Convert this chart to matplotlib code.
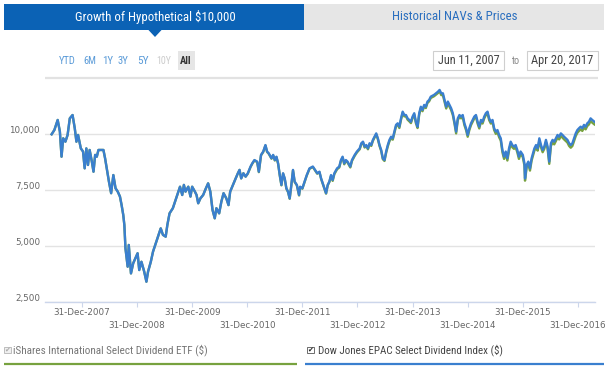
import matplotlib
matplotlib.use("Agg")
import matplotlib.pyplot as plt
from matplotlib import font_manager
from matplotlib.transforms import ScaledTranslation
from matplotlib.patches import Rectangle, Polygon

# ---------------- data (decimal years, growth of $10,000) ----------------
dates_a = [2007.45, 2007.50, 2007.56, 2007.60, 2007.63, 2007.66, 2007.70, 2007.74, 2007.78, 2007.83,
           2007.87, 2007.90, 2007.93, 2007.98, 2008.02, 2008.05, 2008.08, 2008.11, 2008.14, 2008.18,
           2008.21, 2008.24, 2008.27, 2008.30, 2008.34, 2008.39, 2008.42, 2008.45, 2008.49, 2008.53,
           2008.57, 2008.61, 2008.65, 2008.69, 2008.72, 2008.75, 2008.77, 2008.79, 2008.83, 2008.85,
           2008.89, 2008.93, 2008.97, 2009.01, 2009.04, 2009.08, 2009.13, 2009.17, 2009.20, 2009.25,
           2009.29, 2009.33, 2009.38, 2009.43, 2009.47, 2009.52, 2009.55, 2009.59, 2009.65, 2009.70,
           2009.75]
index_a = [10000, 10190, 10640, 10120, 9000, 9820, 9670, 9970, 10710, 10860,
           10270, 9670, 9970, 9370, 9230, 8480, 9370, 8630, 9300, 8780,
           8330, 9080, 9000, 9300, 9300, 9300, 8930, 8480, 7890, 7370,
           8180, 7590, 7440, 7220, 6840, 6400, 5950, 4910, 4090, 5060,
           3790, 4240, 4460, 4690, 3940, 4310, 3870, 3420, 3870, 4310,
           4760, 5060, 5430, 5800, 5510, 5430, 5950, 6470, 6700, 7070,
           7440]
etf_a = [10000, 10190, 10640, 10120, 9000, 9820, 9670, 9970, 10710, 10860,
         10270, 9670, 9970, 9370, 9230, 8480, 9370, 8630, 9300, 8780,
         8330, 9080, 9000, 9300, 9300, 9300, 8930, 8480, 7890, 7370,
         8180, 7590, 7440, 7220, 6840, 6400, 5950, 4910, 4090, 5060,
         3790, 4240, 4460, 4690, 3940, 4310, 3870, 3420, 3870, 4310,
         4760, 5060, 5430, 5800, 5510, 5430, 5950, 6470, 6700, 7070,
         7440]

dates_b = [2009.78, 2009.82, 2009.85, 2009.88, 2009.93, 2009.97,
           2010.00, 2010.05, 2010.08, 2010.11, 2010.15, 2010.20, 2010.25, 2010.29, 2010.33, 2010.37,
           2010.41, 2010.44, 2010.49, 2010.53, 2010.57, 2010.62, 2010.66, 2010.69, 2010.74, 2010.79,
           2010.83, 2010.86, 2010.89, 2010.93, 2010.97,
           2011.01, 2011.06, 2011.09, 2011.13, 2011.18, 2011.21, 2011.25, 2011.29, 2011.32, 2011.33,
           2011.36, 2011.39, 2011.44, 2011.47, 2011.50, 2011.53, 2011.56, 2011.59, 2011.62, 2011.65,
           2011.68, 2011.71, 2011.74, 2011.77, 2011.80, 2011.83, 2011.86, 2011.90, 2011.94, 2011.96,
           2012.00, 2012.04, 2012.08, 2012.13, 2012.19]
index_b = [7660, 7290, 7740, 7440, 7660, 7220,
           7660, 7440, 7290, 6920, 7140, 7290, 7590, 7810, 7440, 6620,
           6250, 6700, 6470, 6990, 7370, 7140, 6840, 7440, 7740, 8030,
           8260, 8410, 8030, 8260, 8110,
           8260, 8560, 8700, 8850, 8780, 8330, 9080, 9230, 9450, 9520,
           9230, 9150, 8930, 9080, 8850, 9000, 8700, 8180, 7740, 8260,
           8030, 7590, 7440, 7140, 7740, 8410, 7890, 7740, 7290, 7660,
           7590, 7890, 8180, 8480, 8560]
etf_b = [7660, 7290, 7740, 7440, 7660, 7220,
         7660, 7440, 7290, 6920, 7140, 7290, 7590, 7810, 7440, 6620,
         6250, 6700, 6470, 6990, 7370, 7140, 6840, 7440, 7740, 8030,
         8260, 8410, 8030, 8260, 8110,
         8240, 8540, 8680, 8830, 8760, 8310, 9060, 9210, 9430, 9500,
         9210, 9130, 8910, 9060, 8830, 8980, 8680, 8160, 7720, 8240,
         8010, 7570, 7420, 7120, 7720, 8390, 7870, 7720, 7270, 7640,
         7570, 7870, 8160, 8460, 8540]

dates_c = [2012.27, 2012.31, 2012.34, 2012.37, 2012.40, 2012.43, 2012.46, 2012.49, 2012.52, 2012.55,
           2012.58, 2012.63, 2012.67, 2012.70, 2012.73, 2012.76, 2012.79, 2012.82, 2012.87, 2012.90,
           2012.95, 2012.99,
           2013.04, 2013.07, 2013.10, 2013.13, 2013.16, 2013.19, 2013.22, 2013.25, 2013.28, 2013.31,
           2013.34, 2013.37, 2013.40, 2013.43, 2013.46, 2013.49, 2013.52, 2013.55, 2013.58, 2013.61,
           2013.64, 2013.67, 2013.70, 2013.73, 2013.76, 2013.79, 2013.82, 2013.85, 2013.88, 2013.91,
           2013.94, 2013.97,
           2014.00, 2014.03, 2014.06, 2014.09, 2014.12, 2014.15, 2014.18, 2014.21, 2014.24, 2014.27,
           2014.30, 2014.33, 2014.39, 2014.46, 2014.49, 2014.52, 2014.55, 2014.58, 2014.61, 2014.64,
           2014.67, 2014.70, 2014.73, 2014.76]
index_c = [8260, 8330, 8030, 7810, 7590, 7370, 7740, 7890, 8180, 7960,
           8260, 8480, 8560, 8850, 9000, 8700, 8850, 8780, 8560, 8850,
           9080, 9230,
           9370, 9600, 9670, 9450, 9520, 9370, 9600, 9520, 9750, 9890,
           10040, 9820, 9520, 9300, 8930, 8850, 9230, 9520, 9750, 9890,
           9820, 10120, 10420, 10490, 10340, 10710, 11010, 10860, 10860, 10710,
           10640, 10560,
           10790, 10940, 10560, 10340, 10940, 11230, 11090, 11310, 11230, 11460,
           11530, 11680, 11760, 11900, 11980, 11830, 11830, 11530, 11230, 11460,
           11310, 11160, 10940, 10560]
etf_c = [8240, 8310, 8010, 7790, 7570, 7350, 7720, 7870, 8140, 7920,
         8220, 8440, 8520, 8810, 8960, 8660, 8810, 8740, 8520, 8810,
         9040, 9190,
         9330, 9560, 9630, 9410, 9480, 9330, 9560, 9480, 9710, 9850,
         10000, 9780, 9480, 9260, 8890, 8810, 9170, 9460, 9690, 9830,
         9760, 10060, 10360, 10430, 10280, 10650, 10950, 10800, 10800, 10650,
         10580, 10500,
         10730, 10880, 10500, 10280, 10880, 11170, 11030, 11250, 11170, 11400,
         11470, 11620, 11700, 11840, 11920, 11750, 11750, 11450, 11150, 11380,
         11230, 11080, 10860, 10480]

dates_d = [2014.79, 2014.82, 2014.85, 2014.88, 2014.91, 2014.94, 2014.97,
           2015.00, 2015.03, 2015.06, 2015.09, 2015.12, 2015.15, 2015.18, 2015.21, 2015.24, 2015.27,
           2015.30, 2015.33, 2015.36, 2015.39, 2015.42, 2015.45, 2015.48, 2015.51, 2015.54, 2015.57,
           2015.60, 2015.63, 2015.66, 2015.69, 2015.72, 2015.75, 2015.78, 2015.81, 2015.84, 2015.87,
           2015.90, 2015.93, 2015.96,
           2016.00, 2016.03, 2016.04, 2016.07, 2016.10, 2016.13, 2016.16, 2016.21, 2016.24, 2016.27,
           2016.30, 2016.33, 2016.36, 2016.39, 2016.42, 2016.45, 2016.48, 2016.51, 2016.54, 2016.57,
           2016.60, 2016.63, 2016.66, 2016.69, 2016.72, 2016.75, 2016.78, 2016.81, 2016.84, 2016.87,
           2016.90, 2016.93, 2016.96, 2016.99,
           2017.02, 2017.05, 2017.08, 2017.11, 2017.14, 2017.17, 2017.20, 2017.23, 2017.26, 2017.30]
index_d = [10120, 10710, 10860, 10790, 10860, 10490, 10270,
           9970, 10270, 10490, 10640, 10790, 10860, 10560, 10340, 10640, 10560,
           10790, 10940, 11010, 10710, 10560, 10640, 10270, 10120, 10190, 9970,
           9820, 9300, 9000, 9230, 8930, 9370, 9670, 9520, 9450, 9520,
           9300, 9000, 9230,
           9080, 8700, 8030, 8630, 8780, 8480, 8930, 9370, 9520, 9370,
           9820, 9520, 9300, 9450, 9750, 9450, 8780, 9600, 9750, 9670,
           9820, 9970, 9890, 10040, 9970, 9890, 9820, 9750, 9600, 9520,
           9600, 9820, 10040, 10190,
           10270, 10340, 10270, 10420, 10340, 10490, 10560, 10710, 10640, 10560]
etf_d = [10040, 10630, 10780, 10710, 10780, 10410, 10190,
         9890, 10190, 10410, 10560, 10710, 10780, 10480, 10260, 10560, 10480,
         10710, 10860, 10930, 10630, 10480, 10560, 10190, 10020, 10090, 9870,
         9720, 9200, 8900, 9130, 8830, 9270, 9570, 9420, 9350, 9420,
         9200, 8900, 9130,
         8980, 8600, 7930, 8530, 8680, 8380, 8830, 9270, 9420, 9270,
         9720, 9420, 9200, 9350, 9650, 9350, 8680, 9480, 9630, 9550,
         9700, 9850, 9770, 9920, 9850, 9770, 9700, 9630, 9480, 9400,
         9480, 9700, 9920, 10070,
         10150, 10220, 10150, 10300, 10220, 10370, 10440, 10590, 10520, 10440]

dates = dates_a + dates_b + dates_c + dates_d
index_values = index_a + index_b + index_c + index_d
etf_values = etf_a + etf_b + etf_c + etf_d

y_ticks = [2500, 5000, 7500, 10000]
y_labels = ["2,500", "5,000", "7,500", "10,000"]
tick_years = [2007, 2008, 2009, 2010, 2011, 2012, 2013, 2014, 2015, 2016]
x_labels = ["31-Dec-%d" % y for y in tick_years]

series_names = ["iShares International Select Dividend ETF ($)",
                "Dow Jones EPAC Select Dividend Index ($)"]
range_buttons = ["YTD", "6M", "1Y", "3Y", "5Y", "10Y", "All"]
tab_labels = ["Growth of Hypothetical $10,000", "Historical NAVs & Prices"]
date_from, date_to = "Jun 11, 2007", "Apr 20, 2017"

# ---------------- styling ----------------
BLUE_LINE = "#3a7fcf"
GREEN_LINE = "#77a23f"
TAB_BLUE = "#0b62b5"
W, H = 610, 368

names = {f.name for f in font_manager.fontManager.ttflist}
ui_font = next((n for n in ["Liberation Sans Narrow", "Roboto Condensed", "Open Sans Condensed",
                            "Liberation Sans", "Roboto"] if n in names), "DejaVu Sans")

fig = plt.figure(figsize=(W / 100, H / 100), dpi=100)
fig.patch.set_facecolor("white")

# main chart
ax = fig.add_axes([45 / W, 1 - 302.3 / H, 550 / W, (302.3 - 85) / H])
ax.plot(dates, etf_values, color=GREEN_LINE, lw=1.7, solid_joinstyle="round", zorder=3)
ax.plot(dates, index_values, color=BLUE_LINE, lw=1.7, solid_joinstyle="round", zorder=4)
ax.set_xlim(2007.33, 2017.31)
ax.set_ylim(2500, 12200)
ax.set_yticks(y_ticks, labels=y_labels)
ax.set_xticks([y + 1.0 for y in tick_years], labels=x_labels)
ax.grid(axis="y", color="#e3e3e3", lw=1.0)
ax.set_axisbelow(True)
for s in ["top", "right", "left"]:
    ax.spines[s].set_visible(False)
ax.spines["bottom"].set_color("#ccd6eb")
ax.spines["bottom"].set_linewidth(1.0)
ax.tick_params(axis="y", length=0, pad=3.6, labelsize=6.3, labelcolor="#666666")
ax.tick_params(axis="x", length=3.6, width=0.8, color="#ccd6eb", pad=0.2,
               labelsize=6.3, labelcolor="#666666")
for lab in ax.get_yticklabels():
    lab.set_transform(lab.get_transform() + ScaledTranslation(0, 4.7 / 100, fig.dpi_scale_trans))
for i, lab in enumerate(ax.get_xticklabels()):
    if i % 2 == 1:
        lab.set_transform(lab.get_transform() + ScaledTranslation(0, -13.7 / 100, fig.dpi_scale_trans))

# overlay for the surrounding widget
ov = fig.add_axes([0, 0, 1, 1], zorder=-1)
ov.set_xlim(0, W)
ov.set_ylim(H, 0)
ov.axis("off")
renderer = fig.canvas.get_renderer()


def fit_text(x, y, s, width, ha="center", **kw):
    t = ov.text(x, y, s, ha=ha, va="center", fontsize=10, **kw)
    w = t.get_window_extent(renderer=renderer).width
    t.set_fontsize(10 * width / w)
    return t


# tabs
ov.add_patch(Rectangle((4, 4), 300, 26, fc=TAB_BLUE, ec="none"))
ov.add_patch(Polygon([(148, 29.5), (162, 29.5), (155, 37)], closed=True, fc=TAB_BLUE, ec="none"))
ov.add_patch(Rectangle((304, 4), 300, 26, fc="#e6e6e6", ec="none"))
fit_text(155, 17, tab_labels[0], 160, color="white", family=ui_font)
fit_text(455, 17, tab_labels[1], 124, color="#2b6fbf", family=ui_font)

# range buttons
btn_x = [67.5, 89.5, 108, 122.5, 143, 164, 186]
btn_w = [17, 13, 11, 11, 11.5, 15, 11.5]
ov.add_patch(Rectangle((177.5, 51), 17.5, 19, fc="#e6e6e6", ec="none"))
for lbl, x, w in zip(range_buttons, btn_x, btn_w):
    if lbl == "All":
        fit_text(x, 60.5, lbl, w, color="#333333", family=ui_font, weight="bold")
    elif lbl == "10Y":
        fit_text(x, 60.5, lbl, w, color="#cccccc", family=ui_font)
    else:
        fit_text(x, 60.5, lbl, w, color="#5b9bd8", family=ui_font)

# date inputs
ov.add_patch(Rectangle((433, 51), 71, 19, fc="white", ec="#cfcfcf", lw=0.8))
ov.add_patch(Rectangle((527, 51), 71, 19, fc="white", ec="#cfcfcf", lw=0.8))
fit_text(468.5, 60.5, date_from, 62, color="#444444", family=ui_font)
fit_text(515.5, 60.5, "to", 8, color="#888888", family=ui_font)
fit_text(562.5, 60.5, date_to, 62, color="#444444", family=ui_font)
ov.plot([45, 598], [78, 78], color="#e2e2e2", lw=1.6, solid_capstyle="butt")

# legend
ov.add_patch(Rectangle((4, 346.5), 6.5, 6.5, fc="#f0f0f0", ec="#b5b5b5", lw=0.6))
ov.text(7.3, 349.8, "\u2714", ha="center", va="center", fontsize=5, color="#aaaaaa",
        family="DejaVu Sans")
ov.add_patch(Rectangle((307, 346.5), 6.5, 6.5, fc="white", ec="#555555", lw=0.6))
ov.text(310.3, 349.8, "\u2714", ha="center", va="center", fontsize=5, color="#222222",
        family="DejaVu Sans")
fit_text(13, 350, series_names[0], 195, ha="left", color="#777777", family=ui_font)
fit_text(318, 350, series_names[1], 184, ha="left", color="#444444", family=ui_font)
ov.plot([4, 297], [363.5, 363.5], color=GREEN_LINE, lw=1.6, solid_capstyle="butt")
ov.plot([305, 604], [363.5, 363.5], color=BLUE_LINE, lw=1.6, solid_capstyle="butt")

fig.savefig("out.png", dpi=100, facecolor="white")
